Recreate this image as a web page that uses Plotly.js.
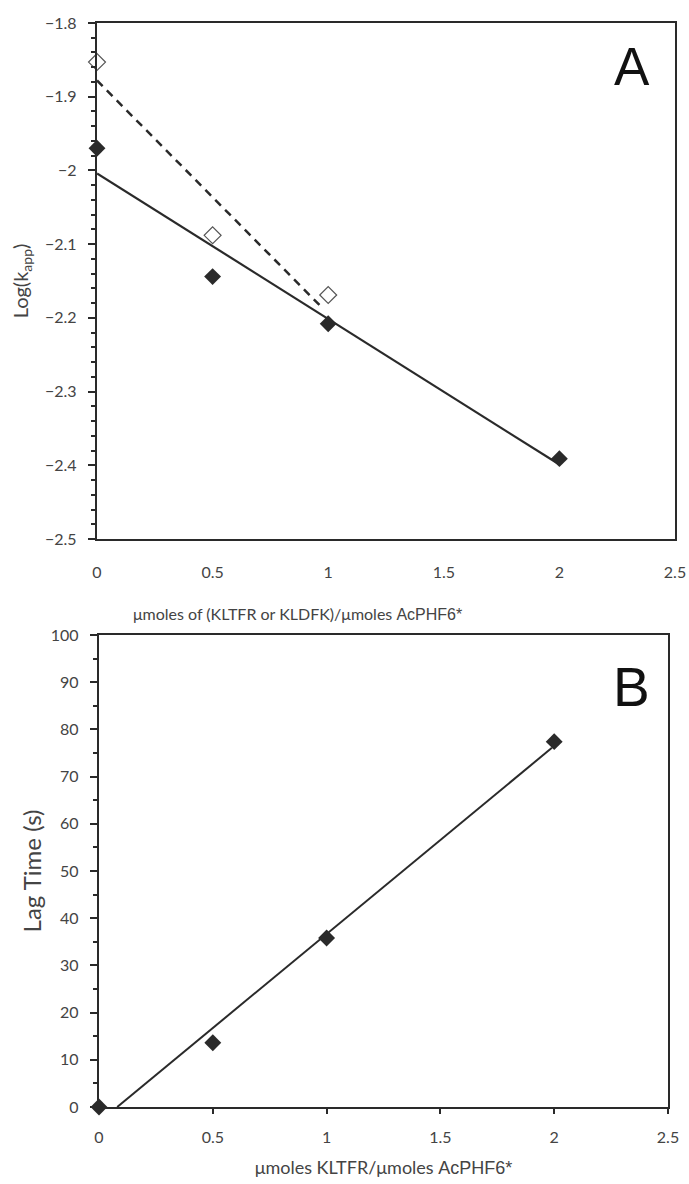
<!DOCTYPE html>
<html>
<head>
<meta charset="utf-8">
<script src="https://cdn.plot.ly/plotly-3.0.1.min.js"></script>
<style>html,body{margin:0;padding:0;background:#fff;}#chart{width:689px;height:1184px;}</style>
</head>
<body>
<div id="chart"></div>
<script>
// Panel A data
const aX = [0, 0.5, 1, 2];
const aFilled = [-1.970, -2.144, -2.208, -2.391];
const aOpenX = [0, 0.5, 1];
const aOpen = [-1.853, -2.088, -2.169];
const aSolidFitX = [0, 2];
const aSolidFitY = [-2.004, -2.399];
const aDashFitX = [0, 0.97];
const aDashFitY = [-1.878, -2.185];
// Panel B data
const bX = [0, 0.5, 1, 2];
const bLag = [0, 13.6, 35.8, 77.4];
const bFitX = [0.08, 1.99];
const bFitY = [0, 76.1];
const aXTicks = [0, 0.5, 1, 1.5, 2, 2.5];
const aXTickText = ['0', '0.5', '1', '1.5', '2', '2.5'];
const aYTicks = [-1.8, -1.9, -2, -2.1, -2.2, -2.3, -2.4, -2.5];
const aYTickText = ['\u22121.8', '\u22121.9', '\u22122', '\u22122.1', '\u22122.2', '\u22122.3', '\u22122.4', '\u22122.5'];
const bYTicks = [0, 10, 20, 30, 40, 50, 60, 70, 80, 90, 100];

const W = 689, H = 1184;
const ink = '#2a2a2a';
const txt = '#444';
const fnt = 'Lato, "Open Sans", sans-serif';
const arial = '"Liberation Sans", Arial, sans-serif';
const acphf = '<span style="font-family:\'Liberation Sans\'">AcPHF6*</span>';
const pad = '\u00a0\u00a0';

const traces = [
  {x: aSolidFitX, y: aSolidFitY, mode: 'lines', line: {color: ink, width: 2.2}, xaxis: 'x', yaxis: 'y', hoverinfo: 'skip'},
  {x: aDashFitX, y: aDashFitY, mode: 'lines', line: {color: ink, width: 2.5, dash: '8px,6px'}, xaxis: 'x', yaxis: 'y', hoverinfo: 'skip'},
  {x: aX, y: aFilled, mode: 'markers', marker: {symbol: 'diamond', size: 13, color: ink}, xaxis: 'x', yaxis: 'y', cliponaxis: false},
  {x: aOpenX, y: aOpen, mode: 'markers', marker: {symbol: 'diamond-open', size: 13, color: '#555', line: {width: 1.2, color: '#555'}}, xaxis: 'x', yaxis: 'y', cliponaxis: false},
  {x: bFitX, y: bFitY, mode: 'lines', line: {color: ink, width: 2}, xaxis: 'x2', yaxis: 'y2', hoverinfo: 'skip'},
  {x: bX, y: bLag, mode: 'markers', marker: {symbol: 'diamond', size: 13, color: ink}, xaxis: 'x2', yaxis: 'y2', cliponaxis: false}
];

const layout = {
  width: W, height: H,
  margin: {l: 0, r: 0, t: 0, b: 0},
  paper_bgcolor: '#fff', plot_bgcolor: '#fff',
  showlegend: false,
  font: {family: fnt, color: txt, size: 16},
  xaxis: {
    domain: [97 / W, 675 / W], range: [0, 2.5], anchor: 'y',
    tickvals: aXTicks, ticktext: aXTickText, ticks: '', ticklabelstandoff: 18,
    showgrid: false, zeroline: false, showline: true, linecolor: ink, linewidth: 2, mirror: true,
    tickfont: {size: 16, color: txt}
  },
  yaxis: {
    domain: [1 - 539 / H, 1 - 23 / H], range: [-2.5, -1.8], anchor: 'x',
    tickvals: aYTicks, ticktext: aYTickText.map(t => t + pad), ticks: 'outside', ticklen: 7, tickwidth: 2, tickcolor: ink,
    minor: {dtick: 0.02, ticks: 'outside', ticklen: 4, tickwidth: 2, tickcolor: ink, showgrid: false},
    showgrid: false, zeroline: false, showline: true, linecolor: ink, linewidth: 2, mirror: true,
    tickfont: {size: 16, color: txt},
    title: {text: 'Log(k<sub>app</sub>)', font: {size: 20, color: txt}, standoff: 11}
  },
  xaxis2: {
    domain: [99 / W, 668 / W], range: [0, 2.5], anchor: 'y2',
    tickvals: aXTicks, ticktext: aXTickText, ticks: 'outside', ticklen: 5, tickwidth: 2, tickcolor: ink,
    ticklabelstandoff: 10,
    showgrid: false, zeroline: false, showline: true, linecolor: ink, linewidth: 2, mirror: true,
    tickfont: {size: 16, color: txt},
    title: {text: 'μmoles KLTFR/μmoles ' + acphf, font: {size: 18, color: txt}, standoff: 16}
  },
  yaxis2: {
    domain: [1 - 1107 / H, 1 - 635 / H], range: [0, 100], anchor: 'x2',
    tickvals: bYTicks, ticktext: bYTicks.map(v => v + pad), ticks: 'outside', ticklen: 7, tickwidth: 2, tickcolor: ink,
    minor: {dtick: 5, ticks: 'outside', ticklen: 4, tickwidth: 2, tickcolor: ink, showgrid: false},
    showgrid: false, zeroline: false, showline: true, linecolor: ink, linewidth: 2, mirror: true,
    tickfont: {size: 16, color: txt},
    title: {text: 'Lag Time (s)', font: {size: 24, color: txt}, standoff: 2}
  },
  annotations: [
    {text: 'μmoles of (KLTFR or KLDFK)/μmoles ' + acphf, x: 297, y: 614, xref: 'paper', yref: 'paper', xanchor: 'center', yanchor: 'middle', showarrow: false, font: {size: 16, color: txt}},
    {text: 'A', x: 632, y: 67, xref: 'paper', yref: 'paper', xanchor: 'center', yanchor: 'middle', showarrow: false, font: {family: arial, size: 53, color: '#111'}},
    {text: 'B', x: 631, y: 687, xref: 'paper', yref: 'paper', xanchor: 'center', yanchor: 'middle', showarrow: false, font: {family: arial, size: 55, color: '#111'}}
  ]
};
// convert pixel positions of annotations to paper fractions
layout.annotations.forEach(a => { a.x = a.x / W; a.y = 1 - a.y / H; });

Plotly.newPlot('chart', traces, layout, {displayModeBar: false, staticPlot: true});
</script>
</body>
</html>
